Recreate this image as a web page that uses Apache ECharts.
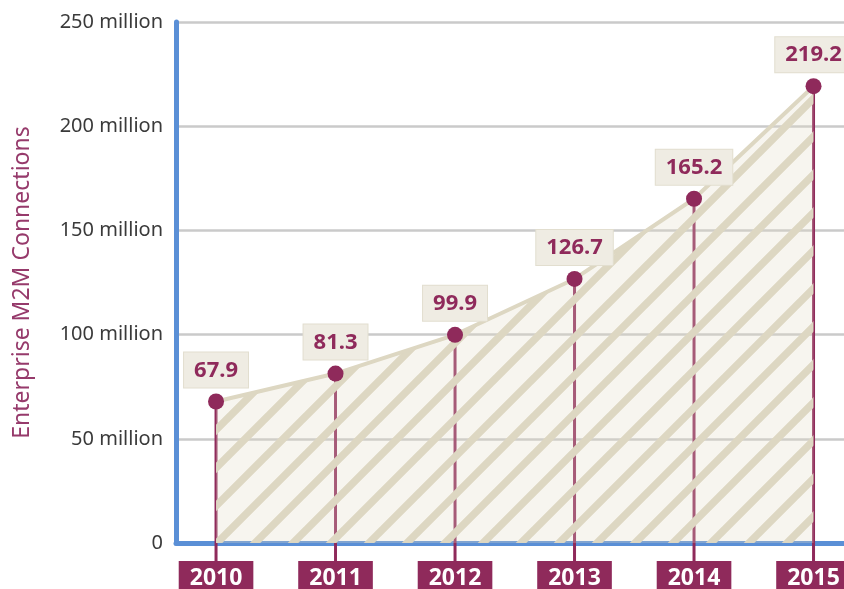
<!DOCTYPE html>
<html>
<head>
<meta charset="utf-8">
<script src="https://cdn.jsdelivr.net/npm/echarts@6/dist/echarts.min.js"></script>
<style>
  html, body { margin: 0; padding: 0; background: #fff; }
  #chart { width: 844px; height: 589px; }
</style>
</head>
<body>
<div id="chart"></div>
<script>
// Data
const years = [2010, 2011, 2012, 2013, 2014, 2015]
const connections = [67.9, 81.3, 99.9, 126.7, 165.2, 219.2]
const yTicks = [0, 50, 100, 150, 200, 250]

const maroon = '#8f2a5b'
const blue = '#5a8fd6'

// hatch pattern for the area (stripes opaque, gaps see-through)
function hatch() {
  const s = 38
  const c = document.createElement('canvas')
  c.width = s
  c.height = s
  const ctx = c.getContext('2d')
  ctx.fillStyle = 'rgba(225,220,196,0.28)'
  ctx.fillRect(0, 0, s, s)
  ctx.strokeStyle = '#ddd7c2'
  ctx.lineWidth = 7.5
  ctx.beginPath()
  ctx.moveTo(-2, s + 2); ctx.lineTo(s + 2, -2)
  ctx.moveTo(-s / 2, s / 2); ctx.lineTo(s / 2, -s / 2)
  ctx.moveTo(s / 2, s * 1.5); ctx.lineTo(s * 1.5, s / 2)
  ctx.stroke()
  return c
}

const points = years.map((y, i) => [y, connections[i]])

const chart = echarts.init(document.getElementById('chart'))
chart.setOption({
  animation: false,
  grid: { left: 176, right: 0, top: 22, bottom: 46, outerBoundsMode: 'none' },
  xAxis: {
    type: 'value',
    min: 2009.665,
    max: 2015.255,
    splitLine: { show: false },
    axisTick: { show: false },
    axisLine: { lineStyle: { color: blue, width: 5 } },
    axisLabel: {
      customValues: years,
      formatter: v => String(v),
      color: '#fff',
      fontFamily: 'Noto Sans',
      fontWeight: 'bold',
      fontSize: 23,
      lineHeight: 28,
      backgroundColor: maroon,
      padding: [3, 11, 3, 11],
      margin: 18,
    },
  },
  yAxis: {
    type: 'value',
    min: 0,
    max: 250,
    interval: 50,
    name: 'Enterprise M2M Connections',
    nameLocation: 'middle',
    nameGap: 142,
    nameTextStyle: { color: '#963a6b', fontFamily: 'Noto Sans', fontSize: 23 },
    axisLine: { show: true, lineStyle: { color: blue, width: 5 } },
    axisTick: { show: false },
    axisLabel: {
      color: '#3a3a3a',
      fontFamily: 'Noto Sans',
      fontSize: 20,
      margin: 13,
      formatter: v => (v === 0 ? '0' : v + ' million'),
    },
    splitLine: { lineStyle: { color: '#cacaca', width: 2.5 } },
  },
  series: [
    {
      type: 'custom',
      clip: false,
      data: points,
      renderItem: (params, api) => {
        const p = api.coord([api.value(0), api.value(1)])
        const b = api.coord([api.value(0), 0])
        return {
          type: 'line',
          shape: { x1: p[0], y1: p[1], x2: b[0], y2: b[1] + 20 },
          style: { stroke: maroon, lineWidth: 3 },
        }
      },
      z: 1,
    },
    {
      type: 'line',
      data: points,
      symbol: 'none',
      lineStyle: { color: '#ddd7c2', width: 4 },
      areaStyle: { color: { image: hatch(), repeat: 'repeat' }, opacity: 1 },
      z: 2,
    },
    {
      type: 'line',
      data: points,
      lineStyle: { width: 0, opacity: 0 },
      symbol: 'circle',
      symbolSize: 16,
      itemStyle: { color: maroon },
      label: {
        show: true,
        position: 'top',
        distance: 6,
        formatter: p => p.value[1].toFixed(1),
        color: maroon,
        fontFamily: 'Noto Sans',
        fontWeight: 'bold',
        fontSize: 22,
        lineHeight: 24,
        backgroundColor: '#efece3',
        borderColor: '#e2decf',
        borderWidth: 1,
        padding: [6, 10, 5, 10],
      },
      z: 4,
    },
  ],
})
</script>
</body>
</html>
